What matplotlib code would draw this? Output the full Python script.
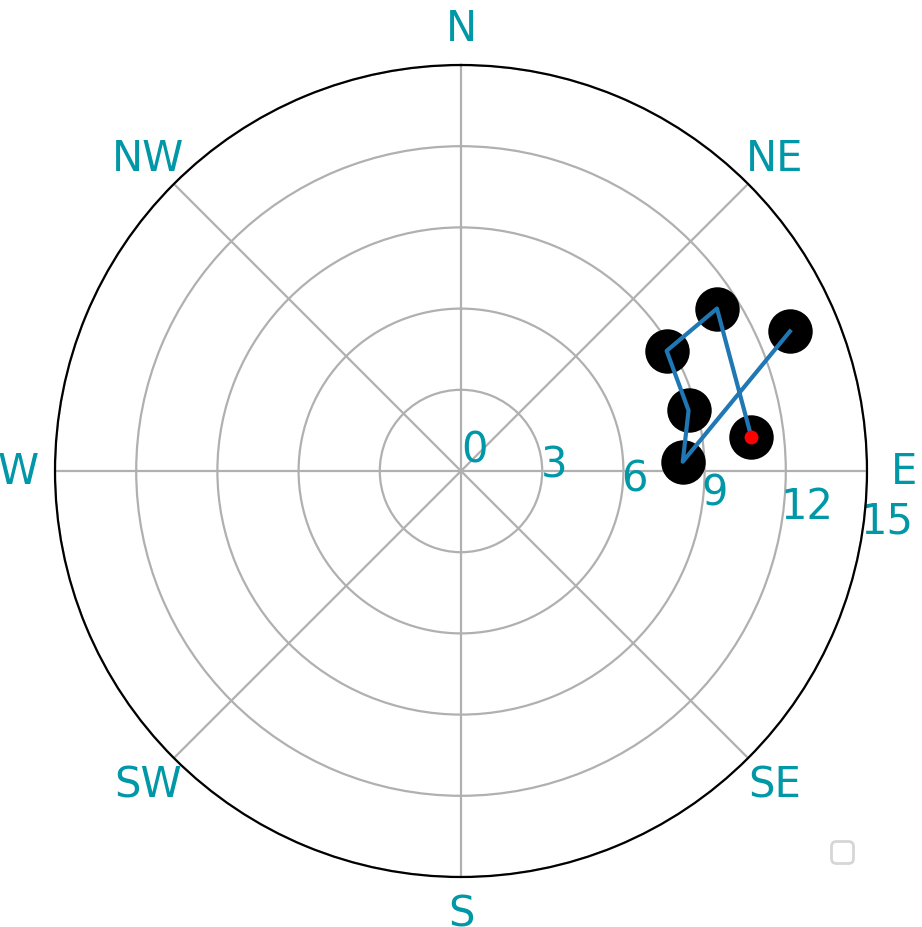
import numpy as np
import matplotlib
matplotlib.use("Agg")
import matplotlib.pyplot as plt

# Data
direction_deg = [83.3, 57.6, 59.7, 75.1, 87.6, 67.0]
speed = [10.8, 11.2, 8.8, 8.7, 8.2, 13.2]
compass_labels = ["N", "NE", "E", "SE", "S", "SW", "W", "NW"]
r_ticks = [0, 3, 6, 9, 12, 15]

label_color = "#0097a7"

fig = plt.figure(figsize=(4.61, 4.64), dpi=200)
ax = fig.add_axes([55 / 922, 50 / 928, 812 / 922, 812 / 928], projection="polar")
ax.set_theta_zero_location("N")
ax.set_theta_direction(-1)

theta = np.deg2rad(direction_deg)
ax.scatter(theta, speed, s=15 ** 2, color="black", zorder=3)
ax.plot(theta, speed, color="#1f77b4", lw=1.5, zorder=4)
ax.plot(theta[0], speed[0], "o", color="red", ms=4, zorder=5)

ax.set_ylim(0, 15)
ax.set_yticks(r_ticks)
ax.set_yticklabels([str(t) for t in r_ticks])
ax.set_rlabel_position(100)
ax.set_xticks(np.deg2rad(np.arange(0, 360, 45)))
ax.set_xticklabels(compass_labels)
ax.tick_params(axis="x", labelsize=15, colors=label_color, pad=2.8)
ax.tick_params(axis="y", labelsize=15, colors=label_color)
ax.grid(True, color="#b0b0b0", lw=0.8)
ax.legend(handles=[], loc="lower right")

fig.savefig("out.png", dpi=200)
